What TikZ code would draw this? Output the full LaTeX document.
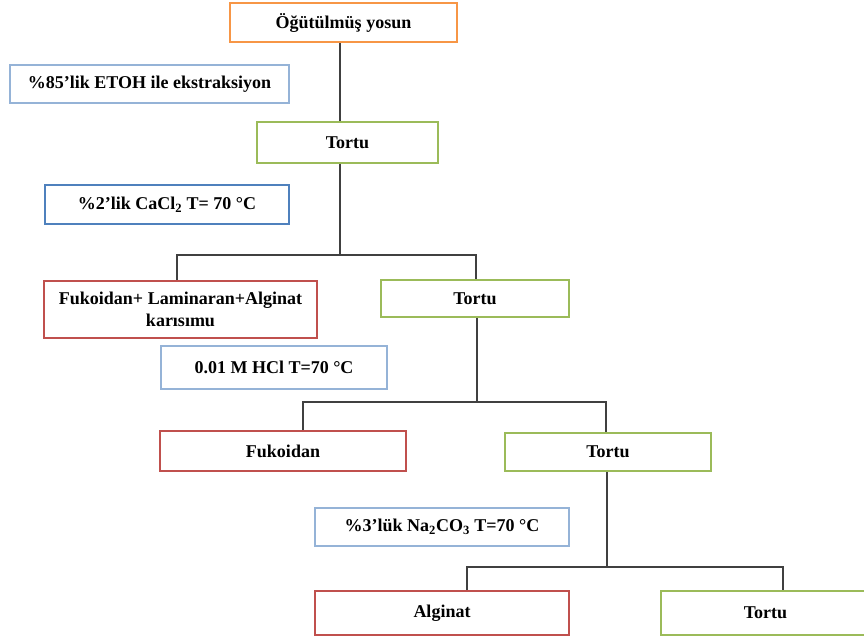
\documentclass[tikz,border=0pt]{standalone}
\usepackage{fontspec}
\setmainfont{Liberation Serif}

\definecolor{orng}{HTML}{F79646}
\definecolor{grn}{HTML}{9BBB59}
\definecolor{rd}{HTML}{C0504D}
\definecolor{blu}{HTML}{4F81BD}
\definecolor{lblu}{HTML}{95B3D7}
\definecolor{linkgray}{HTML}{404040}

\begin{document}
\begin{tikzpicture}[x=10pt,y=-10pt]
\tikzset{ box/.style={draw, line width=2pt, inner sep=0pt, align=center, fill=white,
            font=\fontsize{18}{22}\selectfont\bfseries},
          link/.style={line width=1.3pt, draw=linkgray}, }

%\draw [lightgray, dashed](0,0) grid (86.4,64);
\clip (0,0) rectangle (86.4,64);

\node [box, draw=orng, minimum width=227pt, minimum height=39pt] (O)  at (34.35, 2.25) {Öğütülmüş yosun};
\node [box, draw=lblu, minimum width=279pt, minimum height=38pt] (E)  at (14.95, 8.40) {\%85’lik ETOH ile ekstraksiyon};
\node [box, draw=grn,  minimum width=181pt, minimum height=41pt] (T1) at (34.75,14.25) {Tortu};
\node [box, draw=blu,  minimum width=244pt, minimum height=39pt] (C)  at (16.70,20.45) {\%2’lik CaCl\textsubscript{2} T= 70 °C};
\node [box, draw=rd,   minimum width=273pt, minimum height=57pt] (K)  at (18.05,30.95) {Fukoidan+ Laminaran+Alginat\\karısımu};
\node [box, draw=grn,  minimum width=188pt, minimum height=37pt] (T2) at (47.50,29.85) {Tortu};
\node [box, draw=lblu, minimum width=226pt, minimum height=43pt] (H)  at (27.40,36.75) {0.01 M HCl T=70 °C};
\node [box, draw=rd,   minimum width=246pt, minimum height=40pt] (F)  at (28.30,45.10) {Fukoidan};
\node [box, draw=grn,  minimum width=206pt, minimum height=38pt] (T3) at (60.80,45.20) {Tortu};
\node [box, draw=lblu, minimum width=254pt, minimum height=38pt] (N)  at (44.20,52.70) {\%3’lük Na\textsubscript{2}CO\textsubscript{3} T=70 °C};
\node [box, draw=rd,   minimum width=254pt, minimum height=44pt] (A)  at (44.20,61.30) {Alginat};
\node [box, draw=grn,  minimum width=209pt, minimum height=44pt] (T4) at (76.55,61.30) {Tortu};

\coordinate (B1) at (34.0,25.5);
\coordinate (B2) at (47.7,40.2);
\coordinate (B3) at (60.7,56.7);

\draw [link] (O.south -| B1) -- (T1.north -| B1);
\draw [link] (T1.south -| B1) -- (B1);
\draw [link] ([xshift=-3.5pt]K.north) |- (B1) -| ([xshift=1pt]T2.north);

\draw [link] (T2.south -| B2) -- (B2);
\draw [link] ([xshift=20pt]F.north) |- (B2) -| ([xshift=-2pt]T3.north);

\draw [link] (T3.south -| B3) -- (B3);
\draw [link] ([xshift=25pt]A.north) |- (B3) -| ([xshift=17.5pt]T4.north);

\end{tikzpicture}
\end{document}
